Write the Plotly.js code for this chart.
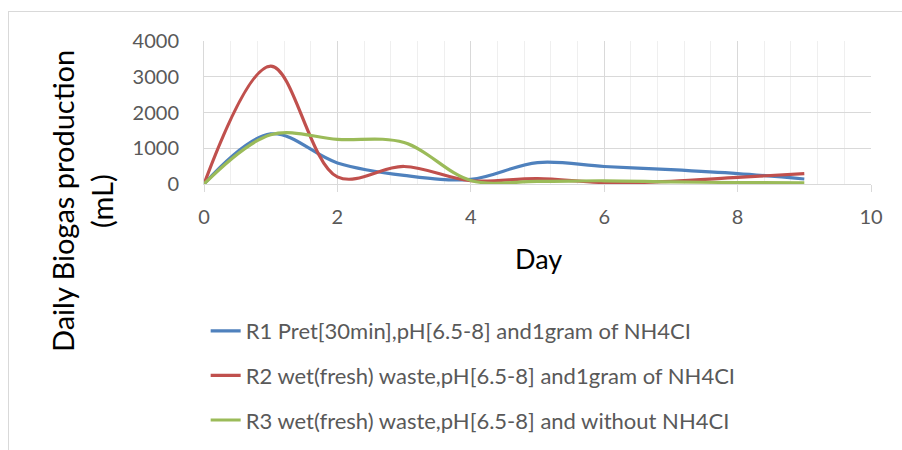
<!DOCTYPE html>
<html>
<head>
<meta charset="utf-8">
<script src="https://cdn.plot.ly/plotly-3.0.1.min.js"></script>
<style>
  html, body { margin: 0; padding: 0; background: #ffffff; }
  #chart { width: 902px; height: 450px; position: absolute; left: 0; top: 0; }
  #frame { position: absolute; left: 8px; top: 11px; width: 1000px; height: 1000px;
           border-left: 1px solid #d9d9d9; border-top: 1px solid #d9d9d9; pointer-events: none; }
</style>
</head>
<body>
<div id="chart"></div>
<div id="frame"></div>
<script>
// Day
const days = [0, 1, 2, 3, 4, 5, 6, 7, 8, 9];
// Daily biogas production (mL)
const r1 = [0, 1400, 590, 240, 130, 600, 490, 400, 290, 140];
const r2 = [0, 3300, 200, 490, 90, 150, 40, 75, 185, 290];
const r3 = [0, 1380, 1250, 1160, 100, 75, 90, 60, 40, 30];

const seriesNames = [
  "R1 Pret[30min],pH[6.5-8] and1gram of NH4CI",
  "R2 wet(fresh) waste,pH[6.5-8] and1gram of NH4CI",
  "R3 wet(fresh) waste,pH[6.5-8] and without NH4CI"
];
const seriesColors = ["#4F81BD", "#C0504D", "#9BBB59"];
const seriesValues = [r1, r2, r3];

const xTickVals = [0, 2, 4, 6, 8, 10];
const yTickVals = [0, 1000, 2000, 3000, 4000];

const FONT = "Lato, 'Open Sans', sans-serif";

const traces = seriesValues.map((vals, i) => ({
  x: days,
  y: vals,
  type: "scatter",
  mode: "lines",
  name: seriesNames[i],
  legendgroup: "g" + i,
  line: { color: seriesColors[i], width: 3.2, shape: "spline", smoothing: 1 }
}));

const layout = {
  width: 902,
  height: 450,
  margin: { l: 204, r: 31, t: 41, b: 266, autoexpand: false },
  paper_bgcolor: "#ffffff",
  plot_bgcolor: "#ffffff",
  font: { family: FONT, color: "#595959" },
  showlegend: true,
  legend: {
    x: 0.0025, xanchor: "left",
    y: -0.881, yanchor: "top",
    font: { family: FONT, size: 22, color: "#595959" },
    tracegroupgap: 13,
    bgcolor: "rgba(0,0,0,0)"
  },
  xaxis: {
    range: [0, 10],
    tickvals: xTickVals,
    ticktext: xTickVals.map(String),
    showgrid: true,
    gridcolor: "#d9d9d9",
    gridwidth: 1,
    minor: { dtick: 0.4, showgrid: true, gridcolor: "#efefef", gridwidth: 1 },
    zeroline: false,
    showline: true,
    linecolor: "#d9d9d9",
    linewidth: 1,
    ticks: "outside",
    ticklen: 7,
    tickcolor: "#d9d9d9",
    ticklabelstandoff: 8,
    tickfont: { family: FONT, size: 20, color: "#595959" },
    fixedrange: true
  },
  yaxis: {
    range: [0, 4000],
    tickvals: yTickVals,
    ticktext: yTickVals.map(String),
    showgrid: true,
    gridcolor: "#d9d9d9",
    gridwidth: 1,
    zeroline: false,
    showline: true,
    linecolor: "#d9d9d9",
    ticks: "",
    ticklabelstandoff: 20,
    tickfont: { family: FONT, size: 20, color: "#595959" },
    fixedrange: true
  },
  annotations: [
    {
      text: "Day", xref: "paper", yref: "paper",
      x: (538 - 204) / 667, y: (184 - 258) / 143,
      xanchor: "center", yanchor: "middle", showarrow: false,
      font: { family: FONT, size: 27, color: "#000000" }
    },
    {
      text: "Daily Biogas production", xref: "paper", yref: "paper",
      x: (62 - 204) / 667, y: (184 - 201) / 143,
      xanchor: "center", yanchor: "middle", showarrow: false, textangle: -90,
      font: { family: FONT, size: 29, color: "#000000" }
    },
    {
      text: "(mL)", xref: "paper", yref: "paper",
      x: (101 - 204) / 667, y: (184 - 201) / 143,
      xanchor: "center", yanchor: "middle", showarrow: false, textangle: -90,
      font: { family: FONT, size: 29, color: "#000000" }
    }
  ]
};

Plotly.newPlot("chart", traces, layout, { staticPlot: true, displayModeBar: false });
</script>
</body>
</html>
